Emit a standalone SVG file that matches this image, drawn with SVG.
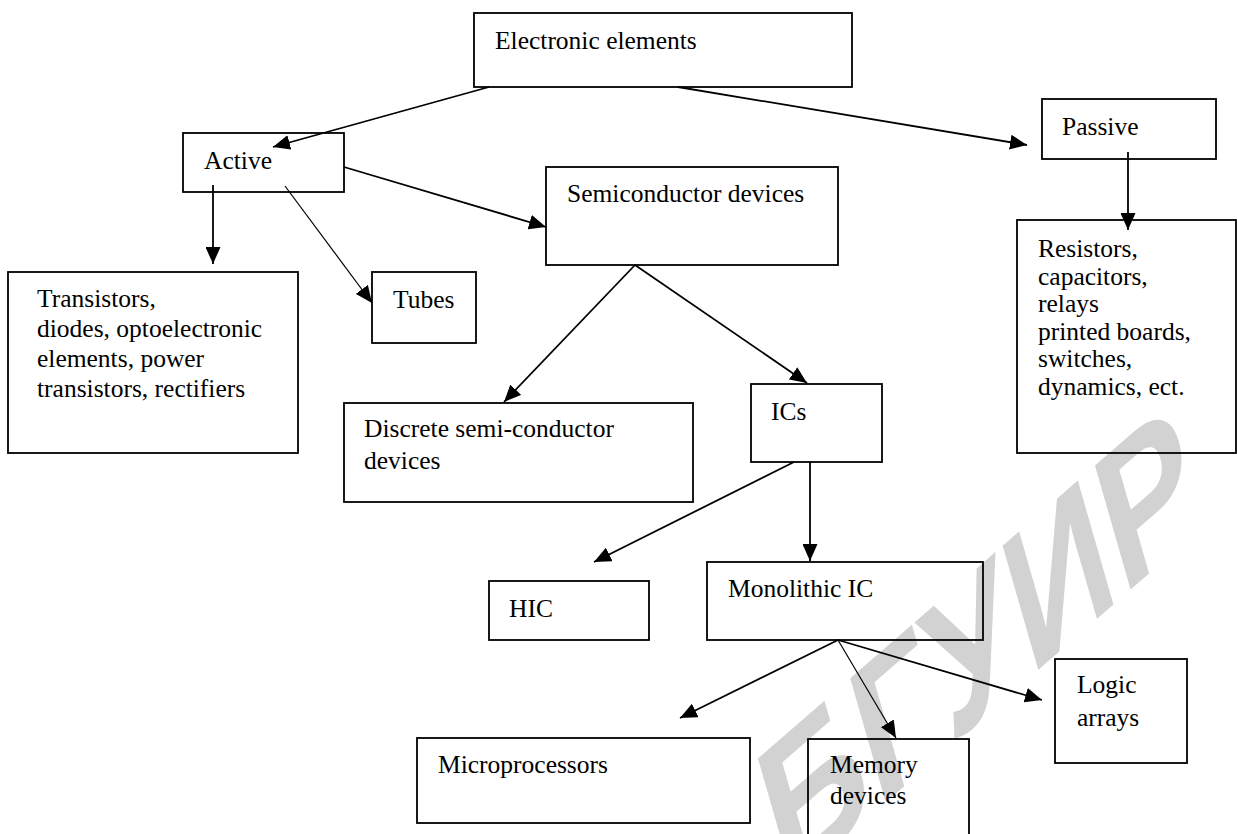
<svg xmlns="http://www.w3.org/2000/svg" width="1237" height="834" viewBox="0 0 1237 834">
<style>
.box{fill:none;stroke:#000;stroke-width:1.8}
.t{font-family:"Liberation Serif","Times New Roman",serif;font-size:25.5px;fill:#000}
.c{fill:none;stroke:#000;stroke-width:1.8}
.thin{fill:none;stroke:#000;stroke-width:1.2}
.wm{font-family:"Liberation Sans",Arial,sans-serif;font-size:170px;font-weight:bold;fill:#d2d2d2}
</style>
<defs>
<marker id="ah" markerUnits="userSpaceOnUse" markerWidth="18" markerHeight="15" refX="17" refY="7.5" orient="auto">
<path d="M0,0 L17,7.5 L0,15 z" fill="#000"/>
</marker>
</defs>
<rect width="1237" height="834" fill="#fff"/>
<text class="wm" transform="translate(785,890) rotate(-41) skewX(-25)">БГУИР</text>
<g id="connectors">
<line class="c" x1="489" y1="87" x2="273" y2="147" marker-end="url(#ah)"/>
<line class="c" x1="678" y1="87" x2="1027" y2="145" marker-end="url(#ah)"/>
<line class="c" x1="344" y1="167" x2="546" y2="227" marker-end="url(#ah)"/>
<line class="c" x1="213" y1="185" x2="213" y2="264" marker-end="url(#ah)"/>
<line class="thin" x1="285" y1="186" x2="372" y2="303" marker-end="url(#ah)"/>
<line class="c" x1="635" y1="265" x2="504" y2="402" marker-end="url(#ah)"/>
<line class="c" x1="635" y1="265" x2="807" y2="383" marker-end="url(#ah)"/>
<line class="c" x1="794" y1="462" x2="594" y2="562" marker-end="url(#ah)"/>
<line class="c" x1="810" y1="462" x2="810" y2="561" marker-end="url(#ah)"/>
<line class="c" x1="838" y1="640" x2="680" y2="718" marker-end="url(#ah)"/>
<line class="thin" x1="838" y1="640" x2="896" y2="738" marker-end="url(#ah)"/>
<line class="c" x1="838" y1="640" x2="1042" y2="700" marker-end="url(#ah)"/>
<line class="c" x1="1128" y1="152" x2="1128" y2="230" marker-end="url(#ah)"/>
</g>
<g id="electronic"><rect class="box" x="474" y="13" width="378" height="74"/><text class="t" x="495" y="49">Electronic elements</text></g>
<g id="active"><rect class="box" x="183" y="133" width="161" height="59"/><text class="t" x="204" y="169">Active</text></g>
<g id="semiconductor"><rect class="box" x="546" y="167" width="292" height="98"/><text class="t" x="567" y="202">Semiconductor devices</text></g>
<g id="passive"><rect class="box" x="1042" y="99" width="174" height="60"/><text class="t" x="1062" y="135">Passive</text></g>
<g id="transistors"><rect class="box" x="8" y="272" width="290" height="181"/>
<text class="t" x="37" y="307">Transistors,</text>
<text class="t" x="37" y="337">diodes, optoelectronic</text>
<text class="t" x="37" y="367">elements, power</text>
<text class="t" x="37" y="397">transistors, rectifiers</text></g>
<g id="tubes"><rect class="box" x="372" y="272" width="104" height="71"/><text class="t" x="393" y="308">Tubes</text></g>
<g id="resistors"><rect class="box" x="1017" y="220" width="219" height="233"/>
<text class="t" x="1038" y="257">Resistors,</text>
<text class="t" x="1038" y="285">capacitors,</text>
<text class="t" x="1038" y="312">relays</text>
<text class="t" x="1038" y="340">printed boards,</text>
<text class="t" x="1038" y="367">switches,</text>
<text class="t" x="1038" y="395">dynamics, ect.</text></g>
<g id="discrete"><rect class="box" x="344" y="403" width="349" height="99"/>
<text class="t" x="364" y="437">Discrete semi-conductor</text>
<text class="t" x="364" y="469">devices</text></g>
<g id="ics"><rect class="box" x="751" y="384" width="131" height="78"/><text class="t" x="771" y="420">ICs</text></g>
<g id="hic"><rect class="box" x="489" y="581" width="160" height="59"/><text class="t" x="509" y="617">HIC</text></g>
<g id="monolithic"><rect class="box" x="707" y="562" width="276" height="78"/><text class="t" x="728" y="597">Monolithic IC</text></g>
<g id="microprocessors"><rect class="box" x="417" y="738" width="333" height="85"/><text class="t" x="438" y="773">Microprocessors</text></g>
<g id="memory"><rect class="box" x="808" y="739" width="161" height="106"/>
<text class="t" x="830" y="773">Memory</text>
<text class="t" x="830" y="804">devices</text></g>
<g id="logic"><rect class="box" x="1055" y="659" width="132" height="104"/>
<text class="t" x="1077" y="693">Logic</text>
<text class="t" x="1077" y="726">arrays</text></g>
</svg>
